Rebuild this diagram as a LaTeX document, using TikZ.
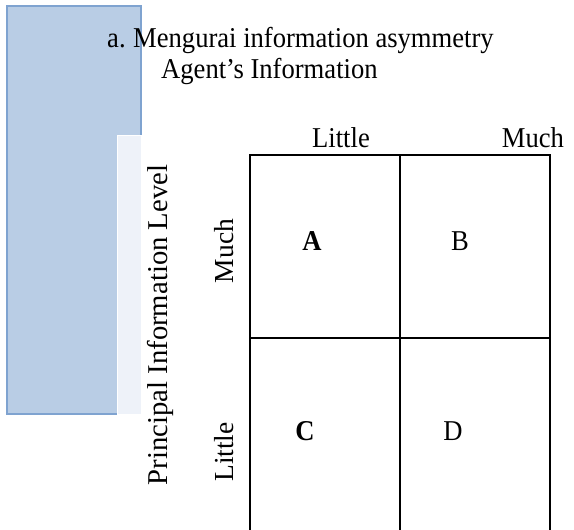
\documentclass[tikz,border=0pt]{standalone}
\usepackage{fontspec}
\setmainfont{Liberation Serif}
\definecolor{sidefill}{HTML}{B9CDE5}
\definecolor{sideline}{HTML}{7FA3D0}
\definecolor{panelfill}{HTML}{EEF2F9}

\begin{document}
\begin{tikzpicture}[x=1pt,y=-1pt,
    txt/.style={inner sep=0pt, yscale=1.08, font=\fontsize{26.6}{32}\selectfont},
    side/.style={inner sep=0pt, anchor=base, rotate=90, font=\fontsize{#1}{32}\selectfont},
    cell/.style={txt, anchor=base},
    grid/.style={line width=2pt}]
  \useasboundingbox (0,0) rectangle (574,530);

  % side bar
  \draw [sideline, fill=sidefill, line width=1.2pt] (7,6) rectangle (141,414);
  \draw [white, fill=panelfill, line width=1pt] (117,135) rectangle (141,414);

  % headings
  \node [txt, anchor=base west] (item) at (107,47) {a.};
  \node [txt, anchor=base west] (title) at (133,47) {Mengurai information asymmetry};
  \node [txt, anchor=base west] (agent) at (161,78) {Agent’s Information};
  \node [txt, anchor=base] (colLittle) at (341,147) {Little};
  \node [txt, anchor=base] (colMuch) at (533,147) {Much};

  % row labels
  \node [side=28.7] (principal) at (167,325) {Principal Information Level};
  \node [side=27.5] (rowMuch) at (233,251) {Much};
  \node [side=27.5] (rowLittle) at (233,452) {Little};

  % matrix
  \draw [grid] (250,530) -- (250,155) -- (550,155) -- (550,530);
  \draw [grid] (400,155) -- (400,530);
  \draw [grid] (250,338) -- (550,338);

  \node [cell, font=\fontsize{26.6}{32}\selectfont\bfseries] (A) at (312,250) {A};
  \node [cell] (B) at (460,250) {B};
  \node [cell, font=\fontsize{26.6}{32}\selectfont\bfseries] (C) at (305,440) {C};
  \node [cell] (D) at (453,440) {D};
\end{tikzpicture}
\end{document}
